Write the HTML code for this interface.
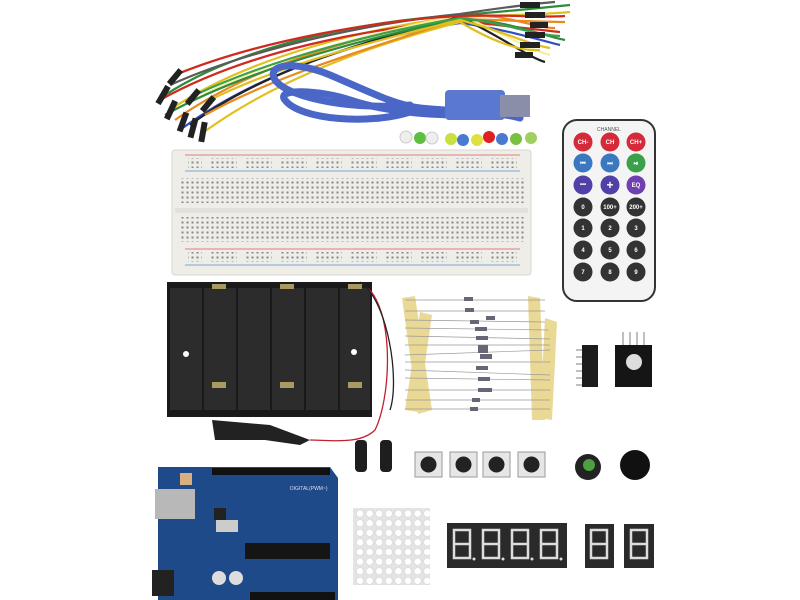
<!DOCTYPE html>
<html><head><meta charset="utf-8"><style>html,body{margin:0;padding:0;background:#fff}svg{display:block}</style></head>
<body>
<svg width="800" height="600" viewBox="0 0 800 600" xmlns="http://www.w3.org/2000/svg" font-family="Liberation Sans, sans-serif">
<rect width="800" height="600" fill="#fff"/>
<!-- jumper wires -->
<g fill="none" stroke-width="2.2">
<path d="M165 95 C250 40 380 20 460 15 C500 12 540 8 570 5" stroke="#2e8b3a"/>
<path d="M170 110 C250 55 380 25 460 17 C500 15 540 15 570 12" stroke="#e0c020"/>
<path d="M175 120 C260 60 380 30 460 19 C500 20 540 22 565 22" stroke="#e88a20"/>
<path d="M160 100 C250 50 370 28 460 21 C500 25 540 30 560 32" stroke="#d02a20"/>
<path d="M180 130 C260 70 380 35 460 23 C500 28 540 40 560 45" stroke="#3050c0"/>
<path d="M185 105 C270 55 390 30 460 15 C500 32 530 50 550 55" stroke="#f5f0a0"/>
<path d="M190 125 C270 65 390 35 460 17 C500 36 530 58 545 62" stroke="#222"/>
<path d="M170 85 C260 45 380 22 460 14 C500 8 530 4 555 2" stroke="#5a5a5a"/>
<path d="M200 135 C280 75 390 40 460 22 C490 40 520 52 540 50" stroke="#e0c020"/>
<path d="M165 115 C255 65 390 32 460 20 C500 18 540 35 565 40" stroke="#2e8b3a"/>
<path d="M205 115 C285 70 400 40 460 18 C500 10 530 28 555 28" stroke="#e88a20"/>
<path d="M175 75 C260 40 380 20 460 16 C500 14 540 18 565 16" stroke="#d02a20"/>
<path d="M195 95 C280 55 390 30 460 18 C500 22 535 35 560 36" stroke="#3aa04a"/>
<path d="M210 100 C290 60 400 35 460 20 C500 30 530 45 550 48" stroke="#e0c020"/>
</g>
<g fill="#222">
<rect x="160" y="85" width="6" height="20" transform="rotate(30 163 95)"/>
<rect x="168" y="100" width="6" height="20" transform="rotate(25 171 110)"/>
<rect x="180" y="112" width="6" height="20" transform="rotate(20 183 122)"/>
<rect x="190" y="118" width="6" height="20" transform="rotate(15 193 128)"/>
<rect x="200" y="122" width="6" height="20" transform="rotate(10 203 132)"/>
<rect x="172" y="68" width="6" height="18" transform="rotate(40 175 77)"/>
<rect x="190" y="88" width="6" height="18" transform="rotate(40 193 97)"/>
<rect x="205" y="95" width="6" height="18" transform="rotate(40 208 104)"/>
<rect x="520" y="2" width="20" height="6"/><rect x="525" y="12" width="20" height="6"/>
<rect x="530" y="22" width="18" height="6"/><rect x="525" y="32" width="20" height="6"/>
<rect x="520" y="42" width="20" height="6"/><rect x="515" y="52" width="18" height="6"/>
</g>
<!-- USB cable -->
<g fill="none" stroke="#4a67c8" stroke-width="7" stroke-linecap="round">
<path d="M410 105 C360 110 290 100 275 80 C265 62 300 62 330 75 C370 92 395 105 420 108 C460 112 500 112 520 118"/>
<path d="M410 112 C370 125 300 120 285 100 C275 88 320 90 350 100 C380 110 420 115 460 115"/>
</g>
<rect x="445" y="90" width="60" height="30" rx="4" fill="#5a78d0"/>
<rect x="500" y="95" width="30" height="22" fill="#8a8ea8"/>
<!-- LEDs -->
<g>
<circle cx="406" cy="137" r="6" fill="#eee" stroke="#ccc"/><circle cx="420" cy="138" r="6" fill="#5ec040"/><circle cx="432" cy="138" r="6" fill="#eee" stroke="#ccc"/>
<circle cx="451" cy="139" r="6" fill="#c8e040"/><circle cx="463" cy="140" r="6" fill="#4a7ad0"/><circle cx="477" cy="140" r="6" fill="#e0e040"/>
<circle cx="489" cy="137" r="6" fill="#e02020"/><circle cx="502" cy="139" r="6" fill="#4a7ad0"/><circle cx="516" cy="139" r="6" fill="#7ac040"/><circle cx="531" cy="138" r="6" fill="#a0d060"/>
</g>
<!-- breadboard -->
<rect x="172" y="150" width="359" height="125" rx="3" fill="#eeede8" stroke="#d8d6d0"/>
<line x1="185" y1="155" x2="520" y2="155" stroke="#e08080"/><line x1="185" y1="171" x2="520" y2="171" stroke="#7aa8d8"/>
<line x1="185" y1="249" x2="520" y2="249" stroke="#e08080"/><line x1="185" y1="265" x2="520" y2="265" stroke="#7aa8d8"/>
<rect x="175" y="208" width="353" height="5" fill="#e2e0da"/>
<defs>
<pattern id="holes" width="5" height="5" patternUnits="userSpaceOnUse"><rect x="1.5" y="1.5" width="2" height="2" fill="#888"/></pattern>
<pattern id="rail" width="35" height="5" patternUnits="userSpaceOnUse"><rect x="0" y="0" width="27" height="5" fill="url(#holes)"/></pattern>
<pattern id="mat" width="9.6" height="9.6" patternUnits="userSpaceOnUse"><circle cx="4.8" cy="4.8" r="3.6" fill="#fff" stroke="#ccc" stroke-width=".5"/></pattern>
</defs>
<rect x="188" y="158" width="330" height="10" fill="url(#rail)"/>
<rect x="188" y="252" width="330" height="10" fill="url(#rail)"/>
<rect x="180" y="178" width="345" height="25" fill="url(#holes)"/>
<rect x="180" y="217" width="345" height="25" fill="url(#holes)"/>
<!-- remote -->
<rect x="563" y="120" width="92" height="181" rx="14" fill="#f4f4f4" stroke="#333" stroke-width="2"/>
<text x="609" y="131" font-size="5" text-anchor="middle" fill="#555">CHANNEL</text>
<g font-size="6" font-weight="bold" fill="#fff" text-anchor="middle">
<circle cx="583" cy="142" r="9.5" fill="#d42a3a"/><circle cx="610" cy="142" r="9.5" fill="#d42a3a"/><circle cx="636" cy="142" r="9.5" fill="#d42a3a"/>
<text x="583" y="144">CH-</text><text x="610" y="144">CH</text><text x="636" y="144">CH+</text>
<circle cx="583" cy="163" r="9.5" fill="#3a78c0"/><circle cx="610" cy="163" r="9.5" fill="#3a78c0"/><circle cx="636" cy="163" r="9.5" fill="#3aa04a"/>
<text x="583" y="165">⏮</text><text x="610" y="165">⏭</text><text x="636" y="165">⏯</text>
<circle cx="583" cy="185" r="9.5" fill="#5040a8"/><circle cx="610" cy="185" r="9.5" fill="#5040a8"/><circle cx="636" cy="185" r="9.5" fill="#7040b0"/>
<text x="583" y="188" font-size="12">−</text><text x="610" y="189" font-size="12">+</text><text x="636" y="187">EQ</text>
<circle cx="583" cy="207" r="9.5" fill="#333"/><circle cx="610" cy="207" r="9.5" fill="#333"/><circle cx="636" cy="207" r="9.5" fill="#333"/>
<text x="583" y="209">0</text><text x="610" y="209">100+</text><text x="636" y="209">200+</text>
<circle cx="583" cy="228" r="9.5" fill="#333"/><circle cx="610" cy="228" r="9.5" fill="#333"/><circle cx="636" cy="228" r="9.5" fill="#333"/>
<text x="583" y="230">1</text><text x="610" y="230">2</text><text x="636" y="230">3</text>
<circle cx="583" cy="250" r="9.5" fill="#333"/><circle cx="610" cy="250" r="9.5" fill="#333"/><circle cx="636" cy="250" r="9.5" fill="#333"/>
<text x="583" y="252">4</text><text x="610" y="252">5</text><text x="636" y="252">6</text>
<circle cx="583" cy="272" r="9.5" fill="#333"/><circle cx="610" cy="272" r="9.5" fill="#333"/><circle cx="636" cy="272" r="9.5" fill="#333"/>
<text x="583" y="274">7</text><text x="610" y="274">8</text><text x="636" y="274">9</text>
</g>
<!-- battery holder -->
<rect x="167" y="282" width="205" height="135" fill="#1a1a1a"/>
<g fill="#2c2c2c"><rect x="204" y="288" width="32" height="122"/><rect x="238" y="288" width="32" height="122"/><rect x="272" y="288" width="32" height="122"/><rect x="306" y="288" width="32" height="122"/><rect x="340" y="288" width="30" height="122"/><rect x="170" y="288" width="32" height="122"/></g>
<g fill="#a89a60"><rect x="212" y="284" width="14" height="5"/><rect x="280" y="284" width="14" height="5"/><rect x="348" y="284" width="14" height="5"/><rect x="212" y="382" width="14" height="6"/><rect x="280" y="382" width="14" height="6"/><rect x="348" y="382" width="14" height="6"/></g>
<circle cx="186" cy="354" r="3" fill="#fff"/><circle cx="354" cy="352" r="3" fill="#fff"/>
<path d="M370 290 C395 320 390 400 375 430 C360 445 330 440 310 440" fill="none" stroke="#c02030" stroke-width="1.3"/>
<path d="M360 282 C388 300 400 380 390 410" fill="none" stroke="#222" stroke-width="1.3"/>
<path d="M212 420 L270 425 L310 440 L300 445 L265 440 L215 440 Z" fill="#222"/>
<!-- resistors -->
<g fill="#e8d48a" opacity=".9">
<path d="M402 298 L415 296 L432 410 L418 414 Z"/><path d="M420 312 L432 315 L418 412 L405 410 Z"/>
<path d="M528 296 L540 298 L545 420 L532 420 Z"/><path d="M545 318 L557 322 L552 420 L540 418 Z"/>
</g>
<g stroke="#999" stroke-width=".7">
<line x1="405" y1="300" x2="545" y2="300"/><line x1="405" y1="311" x2="545" y2="311"/><line x1="405" y1="320" x2="545" y2="322"/><line x1="405" y1="328" x2="548" y2="330"/><line x1="405" y1="336" x2="550" y2="339"/><line x1="405" y1="345" x2="550" y2="345"/><line x1="405" y1="355" x2="550" y2="350"/><line x1="405" y1="362" x2="550" y2="362"/><line x1="405" y1="370" x2="550" y2="375"/><line x1="405" y1="378" x2="550" y2="380"/><line x1="405" y1="390" x2="550" y2="390"/><line x1="405" y1="400" x2="550" y2="400"/><line x1="405" y1="409" x2="550" y2="409"/>
</g>
<g fill="#667"><rect x="464" y="297" width="9" height="4"/><rect x="465" y="308" width="9" height="4"/><rect x="486" y="316" width="9" height="4"/><rect x="470" y="320" width="9" height="4"/><rect x="475" y="327" width="12" height="4"/><rect x="476" y="336" width="12" height="4"/><rect x="478" y="345" width="10" height="8"/><rect x="480" y="354" width="12" height="5"/><rect x="476" y="366" width="12" height="4"/><rect x="478" y="377" width="12" height="4"/><rect x="478" y="388" width="14" height="4"/><rect x="472" y="398" width="8" height="4"/><rect x="470" y="407" width="8" height="4"/></g>
<!-- IC & module -->
<rect x="582" y="345" width="16" height="42" fill="#1c1c1c"/>
<g stroke="#aaa" stroke-width="1.5"><line x1="576" y1="350" x2="582" y2="350"/><line x1="576" y1="357" x2="582" y2="357"/><line x1="576" y1="364" x2="582" y2="364"/><line x1="576" y1="371" x2="582" y2="371"/><line x1="576" y1="378" x2="582" y2="378"/><line x1="576" y1="385" x2="582" y2="385"/>
<line x1="623" y1="332" x2="623" y2="345"/><line x1="630" y1="332" x2="630" y2="345"/><line x1="637" y1="332" x2="637" y2="345"/><line x1="644" y1="332" x2="644" y2="345"/></g>
<rect x="615" y="345" width="37" height="42" fill="#151515"/>
<circle cx="634" cy="362" r="8" fill="#ddd"/>
<!-- capacitors -->
<rect x="355" y="440" width="12" height="32" rx="4" fill="#1e1e1e"/><rect x="380" y="440" width="12" height="32" rx="4" fill="#1e1e1e"/>
<!-- buttons -->
<g><rect x="415" y="452" width="27" height="25" fill="#e6e6e6" stroke="#999"/><circle cx="428.5" cy="464.5" r="8" fill="#222"/>
<rect x="450" y="452" width="27" height="25" fill="#e6e6e6" stroke="#999"/><circle cx="463.5" cy="464.5" r="8" fill="#222"/>
<rect x="483" y="452" width="27" height="25" fill="#e6e6e6" stroke="#999"/><circle cx="496.5" cy="464.5" r="8" fill="#222"/>
<rect x="518" y="452" width="27" height="25" fill="#e6e6e6" stroke="#999"/><circle cx="531.5" cy="464.5" r="8" fill="#222"/></g>
<circle cx="588" cy="467" r="13" fill="#222"/><circle cx="589" cy="465" r="6" fill="#4ca040"/>
<circle cx="635" cy="465" r="15" fill="#111"/>
<!-- arduino -->
<path d="M158 467 L330 467 L338 478 L338 600 L158 600 Z" fill="#1f4a8a"/>
<rect x="155" y="489" width="40" height="30" fill="#b8b8b8"/>
<rect x="152" y="570" width="22" height="26" fill="#222"/>
<rect x="212" y="468" width="118" height="7" fill="#111"/>
<rect x="250" y="592" width="85" height="8" fill="#111"/>
<rect x="245" y="543" width="85" height="16" fill="#151515"/>
<rect x="216" y="520" width="22" height="12" fill="#ccc"/>
<circle cx="219" cy="578" r="7" fill="#ddd"/><circle cx="236" cy="578" r="7" fill="#ddd"/>
<rect x="180" y="473" width="12" height="12" fill="#d8b080"/>
<rect x="214" y="508" width="12" height="12" fill="#222"/>
<text x="290" y="490" font-size="5" fill="#dde">DIGITAL(PWM~)</text>
<!-- matrix -->
<rect x="353" y="508" width="77" height="77" fill="#e4e4e4"/>
<rect x="353" y="508" width="77" height="77" fill="url(#mat)"/>
<!-- 7-seg displays -->
<rect x="447" y="523" width="120" height="45" fill="#2a2a2a"/>
<rect x="585" y="524" width="29" height="44" fill="#2a2a2a"/>
<rect x="624" y="524" width="30" height="44" fill="#2a2a2a"/>
<g fill="none" stroke="#ddd" stroke-width="2.5">
<path d="M454 530 h16 v14 h-16 z M454 544 v14 h16 v-14"/>
<path d="M483 530 h16 v14 h-16 z M483 544 v14 h16 v-14"/>
<path d="M512 530 h16 v14 h-16 z M512 544 v14 h16 v-14"/>
<path d="M541 530 h16 v14 h-16 z M541 544 v14 h16 v-14"/>
<path d="M591 530 h16 v14 h-16 z M591 544 v14 h16 v-14"/>
<path d="M631 530 h16 v14 h-16 z M631 544 v14 h16 v-14"/>
</g>
<g fill="#ddd"><circle cx="474" cy="559" r="1.5"/><circle cx="503" cy="559" r="1.5"/><circle cx="532" cy="559" r="1.5"/><circle cx="561" cy="559" r="1.5"/></g>
</svg>
</body></html>
